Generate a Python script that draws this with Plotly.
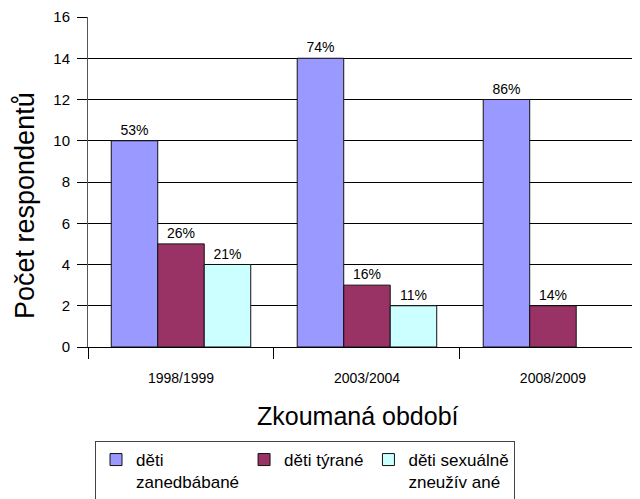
import plotly.graph_objects as go

categories = ["1998/1999", "2003/2004", "2008/2009"]
series_names = ["děti<br>zanedbábané", "děti týrané", "děti sexuálně<br>zneužív ané"]
neglected = [10, 14, 12]
abused = [5, 3, 2]
sexual = [4, 2, None]
neglected_pct = ["53%", "74%", "86%"]
abused_pct = ["26%", "16%", "14%"]
sexual_pct = ["21%", "11%", ""]
colors = ["#9999FF", "#993366", "#CCFFFF"]
x_title = "Zkoumaná období"
y_title = "Počet respondentů"

FONT = "Liberation Sans, Arial, sans-serif"

fig = go.Figure()
for name, vals, txt, col in zip(series_names, [neglected, abused, sexual],
                                [neglected_pct, abused_pct, sexual_pct], colors):
    fig.add_trace(go.Bar(
        x=categories, y=vals, name=name, text=txt,
        textposition="outside", cliponaxis=False,
        textfont=dict(family=FONT, size=14, color="black"),
        marker=dict(color=col, line=dict(color="#111111", width=1)),
    ))

# page body has an 8px margin; the figure is offset by 8px
OFF = 8
W, H = 640 - OFF, 499 - OFF
ml, mr, mt, mb = 88 - OFF, 0, 17 - OFF, 499 - 347
ph = H - mt - mb
pw = W - ml - mr

def px_x(p):  # page pixel -> paper x
    return (p - 88) / pw

def px_y(p):  # page pixel -> paper y
    return (347 - p) / ph

fig.update_layout(
    width=W, height=H,
    margin=dict(l=ml, r=mr, t=mt, b=mb, autoexpand=False),
    paper_bgcolor="white", plot_bgcolor="white",
    barmode="group", bargap=0.25, bargroupgap=0,
    font=dict(family=FONT, color="black"),
    showlegend=True,
    legend=dict(
        orientation="h", x=px_x(95), xanchor="left",
        y=px_y(441), yanchor="top",
        bordercolor="#444444", borderwidth=1, bgcolor="white",
        font=dict(family=FONT, size=17, color="black"),
        valign="top", traceorder="normal",
    ),
    annotations=[
        dict(text=x_title, xref="paper", yref="paper", x=px_x(358), y=px_y(416),
             xanchor="center", yanchor="middle", showarrow=False,
             font=dict(family=FONT, size=25, color="black")),
        dict(text=y_title, xref="paper", yref="paper", x=px_x(25), y=px_y(206),
             xanchor="center", yanchor="middle", showarrow=False, textangle=-90,
             font=dict(family=FONT, size=27, color="black")),
    ],
)
fig.update_xaxes(
    range=[-0.5, 2.468], showline=True, linecolor="black", linewidth=1,
    ticks="outside", tickson="boundaries", ticklen=11, tickcolor="black",
    tickfont=dict(family=FONT, size=14, color="black"),
    ticklabelstandoff=18, showgrid=False,
    automargin=False,
)
fig.update_yaxes(
    range=[0, 16], dtick=2, showline=True, linecolor="#555555", linewidth=1,
    ticks="outside", ticklen=10, tickcolor="black",
    tickfont=dict(family=FONT, size=15, color="black"),
    ticklabelstandoff=4,
    showgrid=True, gridcolor="black", gridwidth=1, zeroline=False,
    automargin=False,
)

fig.write_html("out.html")
